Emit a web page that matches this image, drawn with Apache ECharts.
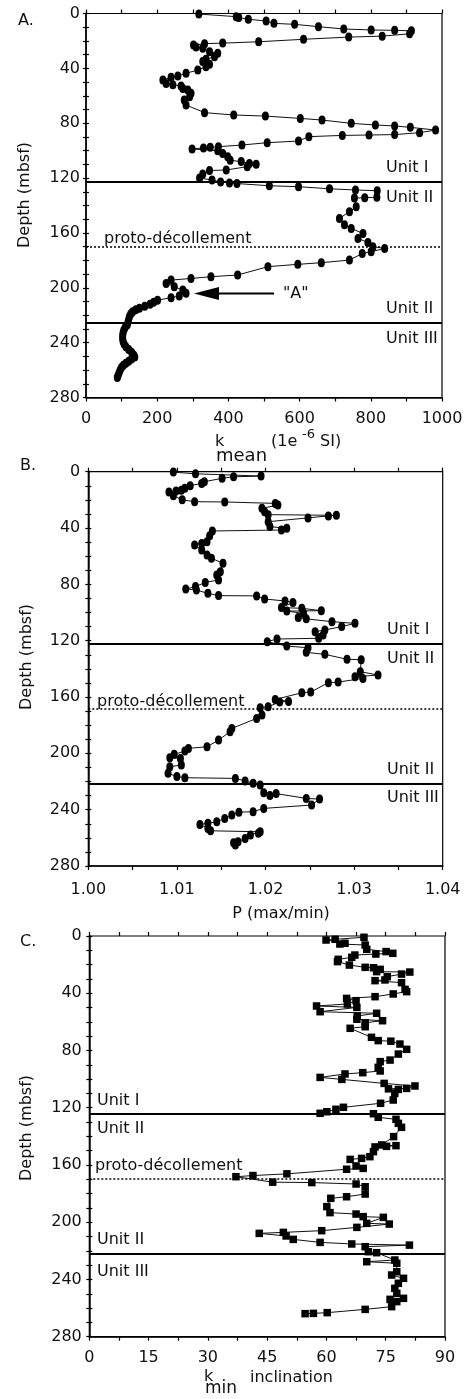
<!DOCTYPE html>
<html><head><meta charset="utf-8">
<script src="https://cdn.jsdelivr.net/npm/echarts@6/dist/echarts.min.js"></script>
<style>html,body{margin:0;padding:0;background:#fff}#c{width:470px;height:1399px}</style>
</head><body><div id="c"></div>
<script>
// Panel A: k_mean (1e-6 SI) vs depth (mbsf)
const kmeanA = [317,422,429,456,506,528,586,653,724,801,867,914,909,832,738,611,485,384,333,302,309,328,347,370,361,337,328,347,337,314,281,258,239,216,225,244,267,272,286,295,291,276,281,333,415,504,602,663,745,813,867,911,982,937,867,795,720,626,597,509,438,372,349,330,298,370,384,398,405,436,459,478,453,394,347,328,319,354,378,403,424,515,597,684,757,818,817,783,754,759,740,712,726,745,778,764,792,806,839,801,776,740,661,595,511,426,351,295,239,225,248,272,281,262,239,201,190,180,165,150,140,131,126,122,120,118,116,110,106,104,103,103,104,107,112,120,128,134,137,128,120,112,105,100,96,93,90,88];
const depthA = [0.4,2.3,3.0,4.2,5.5,7.2,7.9,9.6,11.3,12.0,12.3,12.6,14.8,16.5,17.2,18.8,20.6,21.6,22.0,23.0,24.5,25.4,27.8,29.0,31.5,33.4,35.0,37.0,38.8,41.2,43.6,45.5,46.5,48.5,51.0,52.0,52.8,54.6,55.8,58.2,60.7,63.0,66.7,72.3,74.0,74.8,76.5,77.7,80.1,81.3,82.0,83.0,85.0,86.9,88.3,88.6,88.9,89.8,93.0,94.2,95.9,97.1,97.6,98.0,98.8,100.0,102.0,104.4,107.0,108.0,109.3,110.0,111.7,114.1,114.5,117.0,120.0,121.4,122.9,123.6,124.0,125.6,126.3,127.8,128.7,129.2,134.0,134.3,134.6,141.0,144.5,149.4,154.0,156.7,160.4,164.0,167.0,170.0,171.3,173.7,175.0,179.8,181.7,182.9,184.6,190.7,191.9,193.2,194.4,196.8,199.2,201.7,204.0,206.0,207.2,209.0,210.5,212.0,213.5,215.0,216.0,217.5,219.0,221.0,223.0,225.0,227.0,229.0,231.0,233.0,235.0,237.0,239.0,241.0,243.0,245.0,247.0,249.0,250.5,252.0,253.5,255.0,256.5,258.0,260.0,262.0,264.0,265.5];

// Panel B: P (max/min) vs depth
const pB = [1.0096,1.0121,1.0195,1.0164,1.0151,1.0131,1.0128,1.0115,1.0109,1.0105,1.0099,1.0091,1.0096,1.0106,1.0120,1.0154,1.0211,1.0214,1.0196,1.0199,1.0203,1.0280,1.0271,1.0248,1.0203,1.0205,1.0224,1.0218,1.0140,1.0137,1.0134,1.0128,1.0120,1.0128,1.0134,1.0139,1.0152,1.0149,1.0145,1.0147,1.0132,1.0121,1.0110,1.0122,1.0135,1.0147,1.0190,1.0199,1.0222,1.0231,1.0218,1.0241,1.0263,1.0224,1.0243,1.0237,1.0246,1.0275,1.0301,1.0286,1.0267,1.0256,1.0265,1.0260,1.0213,1.0202,1.0224,1.0248,1.0246,1.0267,1.0292,1.0308,1.0307,1.0327,1.0301,1.0310,1.0282,1.0271,1.0251,1.0241,1.0211,1.0226,1.0216,1.0203,1.0194,1.0196,1.0190,1.0162,1.0160,1.0147,1.0134,1.0113,1.0109,1.0097,1.0092,1.0104,1.0105,1.0092,1.0090,1.0100,1.0109,1.0166,1.0177,1.0186,1.0194,1.0198,1.0205,1.0212,1.0246,1.0261,1.0252,1.0198,1.0186,1.0170,1.0162,1.0154,1.0145,1.0135,1.0126,1.0135,1.0138,1.0194,1.0192,1.0183,1.0177,1.0169,1.0164,1.0166];
const depthB = [0.3,1.5,3.1,3.6,4.7,7.1,8.3,9.9,11.8,13.2,13.7,14.5,17.0,20.0,21.3,21.5,22.5,23.7,26.0,28.4,30.5,31.0,31.4,32.8,35.5,39.0,40.2,41.4,42.1,45.4,49.7,50.9,52.0,55.6,59.2,61.5,65.0,71.0,73.4,76.9,78.6,81.6,83.3,84.0,86.4,88.0,88.2,90.4,91.8,92.8,96.5,97.0,98.7,99.0,100.6,103.5,104.5,106.5,107.7,110.0,112.4,113.6,116.0,118.3,118.8,120.7,123.8,125.0,128.3,129.7,133.2,133.5,142.0,144.4,145.6,146.8,149.4,149.8,156.5,157.0,161.7,163.1,163.5,166.9,167.6,172.8,175.2,182.3,184.6,190.6,195.3,196.5,198.4,200.7,203.1,203.6,208.3,209.5,214.2,216.5,217.3,217.8,219.6,221.3,222.5,228.0,230.0,228.6,232.0,232.5,236.7,239.1,241.4,241.8,243.8,246.2,248.6,249.7,250.5,253.3,255.0,255.7,256.8,258.0,260.4,262.8,263.5,265.1];

// Panel C: k_min inclination vs depth
const incC = [69.5,62.2,59.9,64.7,63.4,69.8,70.2,75.1,76.8,72.5,67.2,66.4,63.0,62.8,65.8,69.8,71.9,73.6,72.7,81.1,79.0,75.4,74.8,72.3,79.0,79.9,80.3,76.9,72.3,65.1,67.5,65.3,57.5,67.7,58.4,72.7,67.8,67.7,74.2,69.8,69.8,66.0,71.4,73.1,76.3,78.6,80.3,78.2,76.1,73.6,73.1,73.6,69.2,64.7,58.4,63.9,74.6,82.4,80.3,75.7,78.2,77.3,76.9,73.7,64.3,62.4,60.1,58.4,71.9,73.1,77.6,78.2,79.0,77.0,74.0,77.6,75.2,72.3,71.9,71.0,68.9,66.0,67.5,69.3,65.1,50.0,41.4,37.1,46.4,56.3,67.5,69.8,69.8,65.1,61.1,60.1,60.9,67.5,69.3,74.4,70.2,75.9,67.7,58.8,49.1,43.0,49.8,51.6,58.4,66.4,81.0,69.8,70.6,72.7,77.3,70.2,77.8,77.8,76.5,79.5,78.2,77.3,77.8,79.5,76.1,77.8,76.5,69.8,60.2,56.7,54.6];
const depthC = [0.9,2.3,2.8,5.1,5.6,6.3,9.3,10.9,12.1,12.6,13.3,14.9,16.3,17.9,20.3,21.9,22.2,23.3,24.9,25.2,26.6,28.4,30.7,31.2,32.6,37.3,38.9,40.5,42.4,43.6,45.2,47.5,48.9,49.9,52.9,54.0,55.9,58.2,59.2,60.6,63.4,64.5,70.8,73.1,73.5,75.5,79.2,82.5,86.7,87.8,91.8,94.3,95.5,96.4,98.8,100.2,103.0,104.8,106.5,106.8,107.2,110.0,114.6,116.9,119.7,121.1,122.8,123.9,124.2,126.7,128.1,130.9,133.7,140.2,146.0,146.5,147.0,147.4,150.7,154.2,155.4,156.1,160.7,162.4,163.0,166.2,167.4,168.2,172.0,172.3,173.3,175.2,180.3,182.2,183.3,189.1,193.3,194.3,196.1,196.6,200.8,201.3,203.6,205.9,207.1,207.8,209.6,212.0,214.1,215.2,216.0,217.1,220.6,221.3,226.4,227.6,228.7,234.6,236.9,239.2,242.7,246.2,249.7,253.2,253.9,255.5,259.0,260.9,263.2,263.7,263.9];

// Boundary depths [Unit I/II, proto-décollement, Unit II/III]
const boundsA = [123, 170, 225.5];
const boundsB = [122, 168, 221.3];
const boundsC = [124.5, 169.8, 222];

const FONT = 'DejaVu Sans';
const zip = (xs, ys) => xs.map((v, i) => [v, ys[i]]);

const grids = [
  {left: 86, top: 13.5, width: 356, height: 384},
  {left: 88.3, top: 471.7, width: 354.4, height: 394.3},
  {left: 89.3, top: 936, width: 355.7, height: 400.7}
];

function xAxes(gi, min, max, interval, fmt, margin) {
  const base = {gridIndex: gi, type: 'value', min, max, interval, position: 'bottom', splitLine: {show: false}};
  return [
    Object.assign({}, base, {
      axisLine: {show: true, onZero: false, lineStyle: {color: '#000', width: 1.5}},
      axisTick: {show: true, inside: false, length: 4, lineStyle: {color: '#000', width: 1.2}},
      axisLabel: {formatter: fmt, margin, color: '#111', fontFamily: FONT, fontSize: 16, showMinLabel: true, showMaxLabel: true, hideOverlap: false}
    }),
    Object.assign({}, base, {
      axisLine: {show: false},
      axisTick: {show: true, inside: true, length: 4, lineStyle: {color: '#000', width: 1.2}},
      axisLabel: {show: false}
    })
  ];
}
function yAxes(gi, margin) {
  const base = {gridIndex: gi, type: 'value', min: 0, max: 280, interval: 10, inverse: true, position: 'left', splitLine: {show: false}};
  return [
    Object.assign({}, base, {
      axisLine: {show: true, onZero: false, lineStyle: {color: '#000', width: 1.5}},
      axisTick: {show: true, inside: false, length: 3, lineStyle: {color: '#000', width: 1.2}},
      axisLabel: {formatter: v => (Math.round(v) % 40 === 0 ? String(Math.round(v)) : ''), margin, color: '#111', fontFamily: FONT, fontSize: 16, showMinLabel: true, showMaxLabel: true}
    }),
    Object.assign({}, base, {
      axisLine: {show: false},
      axisTick: {show: true, inside: true, length: 3, lineStyle: {color: '#000', width: 1.2}},
      axisLabel: {show: false}
    })
  ];
}

function bounds(b) {
  return {
    silent: true, symbol: ['none', 'none'], label: {show: false}, animation: false,
    data: [
      {yAxis: b[0], lineStyle: {type: 'solid', width: 2, color: '#000'}},
      {yAxis: b[1], lineStyle: {type: [2, 2], width: 1.5, color: '#000'}},
      {yAxis: b[2], lineStyle: {type: 'solid', width: 2, color: '#000'}}
    ]
  };
}
function series(gi, data, symbol, size, b) {
  return {
    type: 'line', xAxisIndex: 2 * gi, yAxisIndex: 2 * gi, data, symbol, symbolSize: size,
    showSymbol: true, showAllSymbol: true, z: 3,
    itemStyle: {color: '#000'}, lineStyle: {color: '#111', width: 1},
    markLine: bounds(b), animation: false
  };
}

function T(text, x, y, opt) {
  opt = opt || {};
  return {
    type: 'text', x, y, rotation: opt.rot || 0, silent: true, z: 10,
    style: {text, fill: '#111', fontFamily: FONT, fontSize: opt.size || 16,
      align: opt.align || 'left', verticalAlign: 'middle'}
  };
}

const fmtA = v => (Math.round(v) % 200 === 0 ? String(Math.round(v)) : '');
const fmtB = v => { const k = Math.round((v - 1) * 1000); return k % 10 === 0 ? (1 + k / 1000).toFixed(2) : ''; };
const fmtC = v => { const r = Math.round(v * 10) / 10; return Math.abs(r / 15 - Math.round(r / 15)) < 1e-6 ? String(Math.round(r)) : ''; };

const graphics = [
  // Panel A
  T('A.', 18, 21),
  T('Depth (mbsf)', 25, 195, {rot: Math.PI / 2, align: 'center'}),
  T('Unit I', 386, 168), T('Unit II', 386, 197.5),
  T('proto-décollement', 104, 239),
  T('Unit II', 386, 308.5), T('Unit III', 386, 338.5),
  T('"A"', 283, 294),
  {type: 'polygon', silent: true, z: 10, shape: {points: [[194, 293.5], [219, 287], [219, 300]]}, style: {fill: '#000'}},
  {type: 'line', silent: true, z: 10, shape: {x1: 217, y1: 293.5, x2: 274, y2: 293.5}, style: {stroke: '#000', lineWidth: 2}},
  T('k', 215, 442), T('mean', 216, 456, {size: 18}), T('(1e', 271, 442), T('-6', 302, 435, {size: 13}), T('SI)', 320, 442),
  // Panel B
  T('B.', 20, 466),
  T('Depth (mbsf)', 27, 657, {rot: Math.PI / 2, align: 'center'}),
  T('Unit I', 387, 630), T('Unit II', 387, 659),
  T('proto-décollement', 97, 702),
  T('Unit II', 387, 770), T('Unit III', 387, 798),
  T('P (max/min)', 281, 914, {align: 'center'}),
  // Panel C
  T('C.', 20, 942),
  T('Depth (mbsf)', 27, 1128, {rot: Math.PI / 2, align: 'center'}),
  T('Unit I', 97, 1101), T('Unit II', 97, 1129),
  T('proto-décollement', 95, 1166),
  T('Unit II', 97, 1240), T('Unit III', 97, 1272),
  T('k', 204, 1377), T('min', 205, 1389, {size: 17}), T('inclination', 250, 1378)
];

const option = {
  animation: false,
  backgroundColor: '#fff',
  grid: grids.map(g => Object.assign({show: true, borderColor: '#000', borderWidth: 1.2, backgroundColor: 'transparent', containLabel: false}, g)),
  xAxis: [].concat(
    xAxes(0, 0, 1000, 100, fmtA, 13),
    xAxes(1, 1.0, 1.04, 0.005, fmtB, 16),
    xAxes(2, 0, 90, 7.5, fmtC, 13.5)
  ),
  yAxis: [].concat(yAxes(0, 6), yAxes(1, 8), yAxes(2, 7.5)),
  series: [
    series(0, zip(kmeanA, depthA), 'circle', [7, 9], boundsA),
    series(1, zip(pB, depthB), 'circle', [7, 9], boundsB),
    series(2, zip(incC, depthC), 'rect', 7.5, boundsC)
  ],
  graphic: graphics
};

const chart = echarts.init(document.getElementById('c'), null, {renderer: 'canvas'});
chart.setOption(option);
</script>
</body></html>
